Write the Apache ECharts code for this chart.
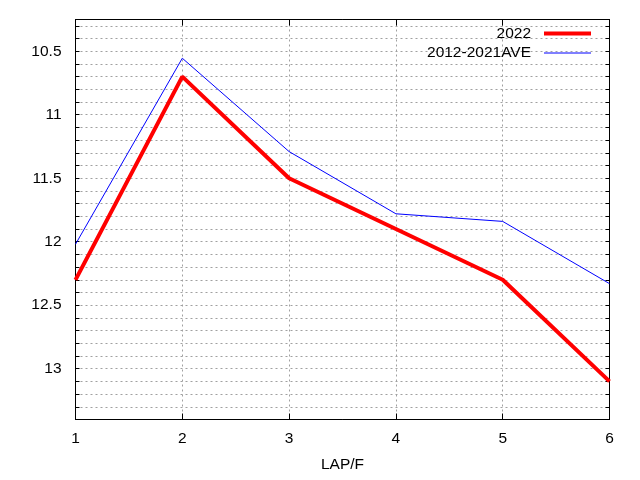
<!DOCTYPE html>
<html>
<head>
<meta charset="utf-8">
<script src="https://cdn.jsdelivr.net/npm/echarts@6/dist/echarts.min.js"></script>
<style>html,body{margin:0;padding:0;background:#fff}#c{width:640px;height:480px}</style>
</head>
<body>
<div id="c"></div>
<script>
var laps = [1, 2, 3, 4, 5, 6];
var s2022 = [12.30, 10.70, 11.50, 11.90, 12.30, 13.10];
var sAve = [12.02, 10.555, 11.29, 11.78, 11.84, 12.33];
var yLabelValues = [10.5, 11, 11.5, 12, 12.5, 13];
var yGridValues = [10.3, 10.4, 10.5, 10.6, 10.7, 10.8, 10.9, 11, 11.1, 11.2, 11.3, 11.4, 11.5, 11.6, 11.7, 11.8, 11.9, 12, 12.1, 12.2, 12.3, 12.4, 12.5, 12.6, 12.7, 12.8, 12.9, 13, 13.1, 13.2, 13.3];
var yMin = 10.25, yMax = 13.4;

var FONT = "'Liberation Sans', Arial, sans-serif";
var gridLine = { show: true, lineStyle: { color: '#a0a0a0', width: 1, type: [2, 3] } };

function pairs(xs, ys) { return xs.map(function (x, i) { return [x, ys[i]]; }); }

var chart = echarts.init(document.getElementById('c'));
chart.setOption({
  animation: false,
  backgroundColor: '#fff',
  grid: { left: 75.5, right: 30.5, top: 19.5, bottom: 60.5, show: true, borderColor: '#000', borderWidth: 1, backgroundColor: 'transparent' },
  xAxis: [{
    type: 'value', min: 1, max: 6, interval: 1, position: 'bottom',
    name: 'LAP/F', nameLocation: 'middle', nameGap: 37,
    nameTextStyle: { fontFamily: FONT, fontSize: 15.5, color: '#000' },
    axisLine: { show: true, lineStyle: { color: '#000', width: 1 } },
    axisTick: { show: true, inside: true, length: 6, lineStyle: { color: '#000' } },
    axisLabel: { fontFamily: FONT, fontSize: 15.5, color: '#000', margin: 11 },
    splitLine: gridLine
  }, {
    type: 'value', min: 1, max: 6, interval: 1, position: 'top',
    axisLine: { show: true, lineStyle: { color: '#000', width: 1 } },
    axisTick: { show: true, inside: true, length: 6, lineStyle: { color: '#000' } },
    axisLabel: { show: false }, splitLine: { show: false }
  }],
  yAxis: [{
    type: 'value', inverse: true, min: yMin, max: yMax, position: 'left',
    axisLine: { show: true, lineStyle: { color: '#000', width: 1 } },
    axisTick: { show: true, inside: true, length: 4, lineStyle: { color: '#000' }, customValues: yGridValues },
    axisLabel: { fontFamily: FONT, fontSize: 15.5, color: '#000', margin: 14, customValues: yLabelValues,
      formatter: function (v) { return String(Math.round(v * 10) / 10); } },
    splitLine: gridLine
  }, {
    type: 'value', inverse: true, min: yMin, max: yMax, position: 'right',
    axisLine: { show: true, lineStyle: { color: '#000', width: 1 } },
    axisTick: { show: true, inside: true, length: 4, lineStyle: { color: '#000' }, customValues: yGridValues },
    axisLabel: { show: false }, splitLine: { show: false }
  }],
  legend: [{
    data: ['2022'], right: 49, top: 25.5, padding: 0, align: 'right', icon: 'rect',
    itemWidth: 47, itemHeight: 4,
    textStyle: { fontFamily: FONT, fontSize: 15.5, color: '#000', padding: [0, 8, 0, 0] }
  }, {
    data: ['2012-2021AVE'], right: 49, top: 45, padding: 0, align: 'right', icon: 'rect',
    itemWidth: 47, itemHeight: 1,
    textStyle: { fontFamily: FONT, fontSize: 15.5, color: '#000', padding: [0, 8, 0, 0] }
  }],
  series: [{
    name: '2022', type: 'line', data: pairs(laps, s2022), symbol: 'none',
    color: '#ff0000', lineStyle: { color: '#ff0000', width: 4 }, z: 3
  }, {
    name: '2012-2021AVE', type: 'line', data: pairs(laps, sAve), symbol: 'none',
    color: '#0000ff', lineStyle: { color: '#0000ff', width: 1 }, z: 2
  }]
});
</script>
</body>
</html>
